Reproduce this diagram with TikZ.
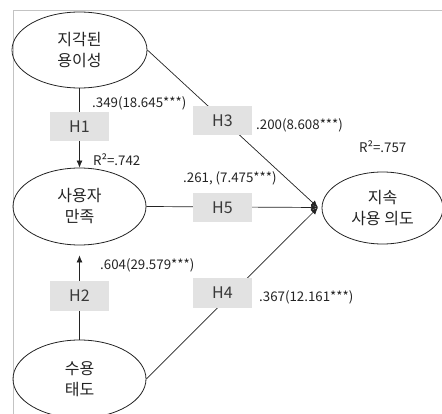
\documentclass[tikz,border=0pt]{standalone}
\usepackage{fontspec}
\setmainfont{Noto Sans CJK KR}
\usetikzlibrary{shapes.geometric,arrows.meta}
\definecolor{boxgray}{RGB}{226,226,226}
\definecolor{ink}{RGB}{35,35,35}
\definecolor{framegray}{RGB}{195,195,195}
\begin{document}
\begin{tikzpicture}[x=1pt,y=-1pt,
  latent/.style={ellipse, draw=ink, line width=0.8pt, align=center, inner sep=0pt,
    text=ink, font=\fontsize{16}{21}\selectfont},
  hyp/.style={fill=boxgray, minimum width=59pt, minimum height=29pt, inner sep=0pt,
    text=ink!90, font=\fontsize{16}{16}\selectfont},
  coef/.style={anchor=west, inner sep=0pt, text=ink, font=\fontsize{13.3}{13.3}\selectfont},
  link/.style={draw=ink, line width=0.7pt},
  arr/.style={link, -{Latex[length=7pt,width=6pt]}}]
\useasboundingbox (0,0) rectangle (442,414);
% frame
\draw[framegray, line width=0.8pt] (13,414) -- (13,10) -- (442,10);
% constructs
\node[latent, minimum width=135pt, minimum height=76pt] (PEU) at (79.5,50) {지각된\\용이성};
\node[latent, minimum width=133pt, minimum height=77pt] (SAT) at (79.5,206.5) {사용자\\만족};
\node[latent, minimum width=133pt, minimum height=78pt] (ATT) at (79.5,379) {수용\\태도};
\node[latent, minimum width=121pt, minimum height=72pt] (CI) at (382.5,208) {지속\\사용 의도};
\coordinate (J) at (318,207.5);
\coordinate (T2) at ([yshift=-10pt]SAT.south);
% paths
\draw[arr] (PEU.south) -- (SAT.north);
\draw[arr] (ATT.north) -- (T2);
\draw[arr] (PEU.east) -- (J);
\draw[arr] (SAT.east) -- (J);
\draw[arr] (ATT.east) -- (J);
% hypothesis boxes
\node[hyp] (H1) at (79.5,126.5) {H1};
\node[hyp] (H2) at (79.5,296) {H2};
\node[hyp] (H3) at (222.5,121) {H3};
\node[hyp] (H5) at (222.5,208) {H5};
\node[hyp] (H4) at (222.5,293) {H4};
% coefficients
\node[coef] (c1) at (92,103) {.349(18.645***)};
\node[coef] (r1) at (93,160) {R²=.742};
\node[coef] (c3) at (256,125) {.200(8.608***)};
\node[coef] (r2) at (359,147) {R²=.757};
\node[coef] (c5) at (183,178) {.261, (7.475***)};
\node[coef] (c2) at (100,265) {.604(29.579***)};
\node[coef] (c4) at (259,297) {.367(12.161***)};
\end{tikzpicture}
\end{document}
